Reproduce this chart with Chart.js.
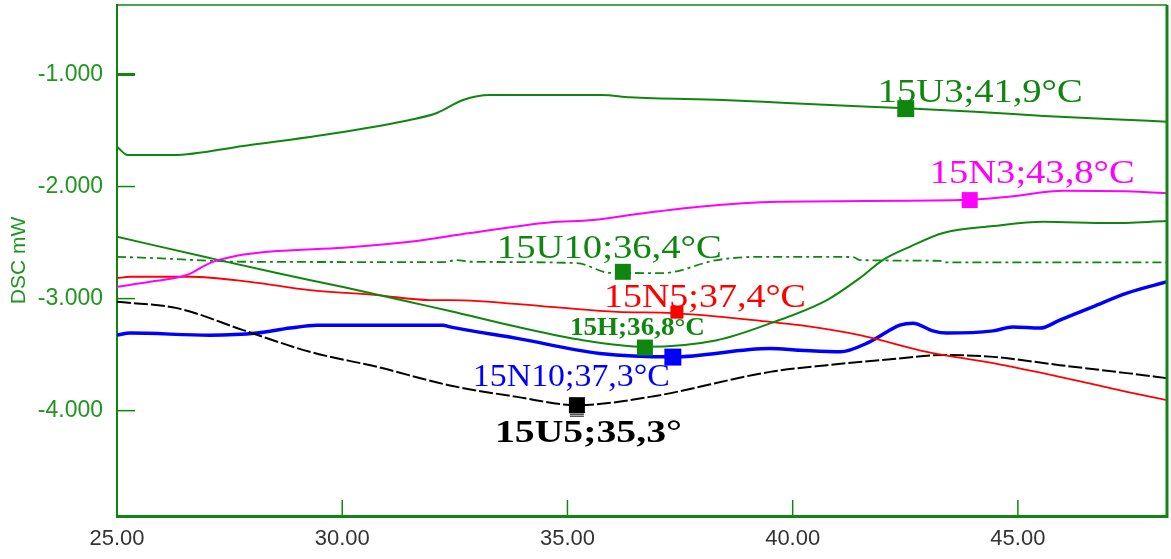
<!DOCTYPE html>
<html><head><meta charset="utf-8">
<script src="https://cdn.jsdelivr.net/npm/chart.js@4.4.0/dist/chart.umd.min.js"></script>
<style>html,body{margin:0;padding:0;background:#fff;}#wrap{width:1171px;height:559px;position:relative;}</style>
</head><body><div id="wrap"><canvas id="c"></canvas></div>
<script>
// ---- axis data ----
const xTicks = [25, 30, 35, 40, 45];
const yTicks = [-1, -2, -3, -4];
const xRange = [25, 48.31];
const yRange = [-4.94, -0.38];

// ---- series (temperature °C, DSC mW) ----
const u3T = [25.00,25.24,26.24,27.80,30.02,31.50,32.10,32.68,33.28,35.77,36.39,38.45,39.76,40.83,42.51,44.05,45.58,47.11,48.31];
const u3V = [-1.645,-1.719,-1.719,-1.638,-1.513,-1.406,-1.344,-1.228,-1.183,-1.183,-1.204,-1.228,-1.252,-1.272,-1.302,-1.332,-1.371,-1.400,-1.421];

const n3T = [25.00,25.73,26.55,27.06,27.66,28.55,30.02,31.50,32.84,34.59,35.57,36.54,37.92,39.67,43.73,44.80,46.02,47.71,48.31];
const n3V = [-2.895,-2.850,-2.790,-2.683,-2.618,-2.576,-2.546,-2.493,-2.415,-2.320,-2.299,-2.246,-2.180,-2.136,-2.121,-2.091,-2.038,-2.046,-2.061];

const u10T = [25.00,25.80,27.80,32.24,32.55,32.84,35.21,35.94,37.12,38.32,39.27,41.34,41.49,43.27,43.42,48.31];
const u10V = [-2.627,-2.638,-2.671,-2.674,-2.656,-2.671,-2.683,-2.770,-2.772,-2.656,-2.627,-2.629,-2.656,-2.663,-2.677,-2.677];

const hT = [25.00,27.06,28.55,30.02,31.50,32.39,33.88,35.34,36.72,38.32,39.50,40.76,41.49,42.00,42.60,43.34,44.45,45.56,47.04,48.31];
const hV = [-2.448,-2.638,-2.772,-2.897,-3.031,-3.110,-3.252,-3.371,-3.430,-3.371,-3.221,-3.013,-2.817,-2.656,-2.538,-2.415,-2.353,-2.314,-2.326,-2.308];

const n5T = [25.00,25.29,26.62,27.95,29.28,30.77,31.95,32.39,34.61,36.10,37.34,39.50,40.16,41.49,42.98,44.45,45.93,47.42,48.31];
const n5V = [-2.817,-2.805,-2.805,-2.850,-2.924,-2.969,-3.013,-3.013,-3.073,-3.118,-3.129,-3.207,-3.237,-3.326,-3.475,-3.576,-3.698,-3.832,-3.906];

const n10T = [25.00,25.29,27.06,28.11,28.84,29.44,32.24,32.39,33.88,35.72,37.34,39.50,40.16,41.05,41.71,42.38,42.67,43.11,43.42,44.45,44.89,45.49,45.93,46.66,47.42,48.31];
const n10V = [-3.326,-3.308,-3.326,-3.308,-3.263,-3.237,-3.237,-3.252,-3.355,-3.489,-3.520,-3.445,-3.460,-3.475,-3.386,-3.237,-3.219,-3.288,-3.308,-3.288,-3.254,-3.263,-3.192,-3.073,-2.951,-2.850];

const u5T = [25.00,26.33,27.80,29.28,30.77,32.39,33.88,35.21,36.83,39.50,40.76,42.23,43.34,44.45,45.93,47.42,48.31];
const u5V = [-3.029,-3.085,-3.281,-3.475,-3.609,-3.775,-3.877,-3.951,-3.877,-3.654,-3.594,-3.540,-3.504,-3.520,-3.594,-3.665,-3.710];

// ---- peak markers ----
const markerNames = ['15U3;41,9°C','15N3;43,8°C','15U10;36,4°C','15N5;37,4°C','15H;36,8°C','15N10;37,3°C','15U5;35,3°'];
const markerT = [42.51, 43.93, 36.23, 37.43, 36.72, 37.34, 35.21];
const markerV = [-1.305, -2.121, -2.761, -3.121, -3.437, -3.522, -3.951];

// ---- build ----
const GREEN = '#0f870f';
const zip = (t, v) => t.map((x, i) => ({x, y: v[i]}));
const markerColors = [GREEN, '#ff00ff', GREEN, '#ff0000', GREEN, '#0000ff', '#000000'];
const markerRadius = [12, 11.3, 11.3, 9.2, 11.3, 12, 11.3];

const lineDs = (label, t, v, color, width, dash) => ({
  type: 'line', label, data: zip(t, v), borderColor: color, borderWidth: width,
  borderDash: dash || [], pointRadius: 0, fill: false, tension: 0.3,
  cubicInterpolationMode: 'monotone', order: 2
});

const datasets = [
  lineDs('15U3', u3T, u3V, GREEN, 2),
  lineDs('15N3', n3T, n3V, '#ff00ff', 2),
  lineDs('15U10', u10T, u10V, GREEN, 1.8, [9, 4, 3, 4]),
  lineDs('15H', hT, hV, GREEN, 2),
  lineDs('15N5', n5T, n5V, '#ff0000', 1.8),
  lineDs('15U5', u5T, u5V, '#000000', 2, [14, 3]),
  lineDs('15N10', n10T, n10V, '#0000ff', 3.5)
];
markerNames.forEach((n, i) => datasets.push({
  type: 'scatter', label: n, data: [{x: markerT[i], y: markerV[i]}],
  pointStyle: 'rect', pointRadius: markerRadius[i], backgroundColor: markerColors[i],
  borderColor: markerColors[i], borderWidth: 0, order: 0
}));

const labelStyles = [
  {color: GREEN, font: '34px "Liberation Serif", serif', dx: -28, dy: -6.8, w: 205},
  {color: '#ff00ff', font: '33px "Liberation Serif", serif', dx: -40, dy: -17, w: 205},
  {color: GREEN, font: '34px "Liberation Serif", serif', dx: -126, dy: -13.4, w: 225},
  {color: '#ff0000', font: '33px "Liberation Serif", serif', dx: -73, dy: -4.7, w: 202},
  {color: GREEN, font: 'bold 26px "Liberation Serif", serif', dx: -75, dy: -12.5, w: 135},
  {color: '#0000ff', font: '31px "Liberation Serif", serif', dx: -200, dy: 29, w: 197},
  {color: '#000000', font: 'bold 32px "Liberation Serif", serif', dx: -82, dy: 36.7, w: 187}
];

const framePlugin = {
  id: 'frame',
  afterDatasetsDraw(chart) {
    const {ctx, chartArea: a, scales: {x, y}} = chart;
    ctx.save();
    ctx.strokeStyle = GREEN;
    ctx.lineWidth = 1.5;
    ctx.beginPath(); ctx.moveTo(a.left, a.top); ctx.lineTo(a.right, a.top); ctx.stroke();
    ctx.lineWidth = 3;
    ctx.beginPath(); ctx.moveTo(a.right, a.top); ctx.lineTo(a.right, a.bottom + 2); ctx.stroke();
    yTicks.forEach((v, i) => {
      const py = y.getPixelForValue(v);
      ctx.lineWidth = i === 0 ? 3 : 1.5;
      ctx.beginPath(); ctx.moveTo(a.left, py); ctx.lineTo(a.left + 18, py); ctx.stroke();
    });
    ctx.lineWidth = 1.5;
    xTicks.slice(1).forEach(v => {
      const px = x.getPixelForValue(v);
      ctx.beginPath(); ctx.moveTo(px, a.bottom); ctx.lineTo(px, a.bottom - 16); ctx.stroke();
    });
    // double underline below the 15U5 marker
    const ux = x.getPixelForValue(markerT[6]), uy = y.getPixelForValue(markerV[6]);
    ctx.strokeStyle = '#000'; ctx.lineWidth = 1;
    [9, 11].forEach(o => { ctx.beginPath(); ctx.moveTo(ux - 7, uy + o); ctx.lineTo(ux + 7, uy + o); ctx.stroke(); });
    ctx.textAlign = 'left';
    ctx.textBaseline = 'alphabetic';
    markerNames.forEach((n, i) => {
      const s = labelStyles[i];
      const px = x.getPixelForValue(markerT[i]);
      const py = y.getPixelForValue(markerV[i]);
      ctx.font = s.font;
      ctx.fillStyle = s.color;
      const w0 = ctx.measureText(n).width;
      ctx.save();
      ctx.translate(px + s.dx, py + s.dy);
      ctx.scale(s.w / w0, 1);
      ctx.fillText(n, 0, 0);
      ctx.restore();
    });
    ctx.restore();
  }
};

new Chart(document.getElementById('c'), {
  data: {datasets},
  options: {
    responsive: true, maintainAspectRatio: false, animation: false,
    layout: {autoPadding: false, padding: {top: 5, right: 4, left: 0, bottom: 0}},
    plugins: {legend: {display: false}, tooltip: {enabled: false}},
    scales: {
      x: {
        type: 'linear', min: xRange[0], max: xRange[1],
        afterBuildTicks: s => { s.ticks = xTicks.map(v => ({value: v})); },
        afterFit: s => { s.height = 43; s.paddingLeft = 0; s.paddingRight = 0; },
        grid: {display: false, drawTicks: false},
        border: {display: true, color: GREEN, width: 3},
        ticks: {padding: 10, color: '#333333', maxRotation: 0, autoSkip: false,
          font: {family: '"Liberation Sans", Arial, sans-serif', size: 22},
          callback: v => Number(v).toFixed(2)}
      },
      y: {
        type: 'linear', min: yRange[0], max: yRange[1],
        afterBuildTicks: s => { s.ticks = yTicks.map(v => ({value: v})); },
        afterFit: s => { s.width = 117; s.paddingTop = 0; s.paddingBottom = 0; },
        grid: {display: false, drawTicks: false},
        border: {display: true, color: GREEN, width: 2},
        title: {display: true, text: 'DSC mW', color: '#1f961f', padding: {top: 7, bottom: 0},
          font: {family: '"Liberation Sans", Arial, sans-serif', size: 21}},
        ticks: {padding: 14, color: '#1f961f', autoSkip: false,
          font: {family: '"Liberation Sans", Arial, sans-serif', size: 23},
          callback: v => Number(v).toFixed(3)}
      }
    }
  },
  plugins: [framePlugin]
});
</script></body></html>
